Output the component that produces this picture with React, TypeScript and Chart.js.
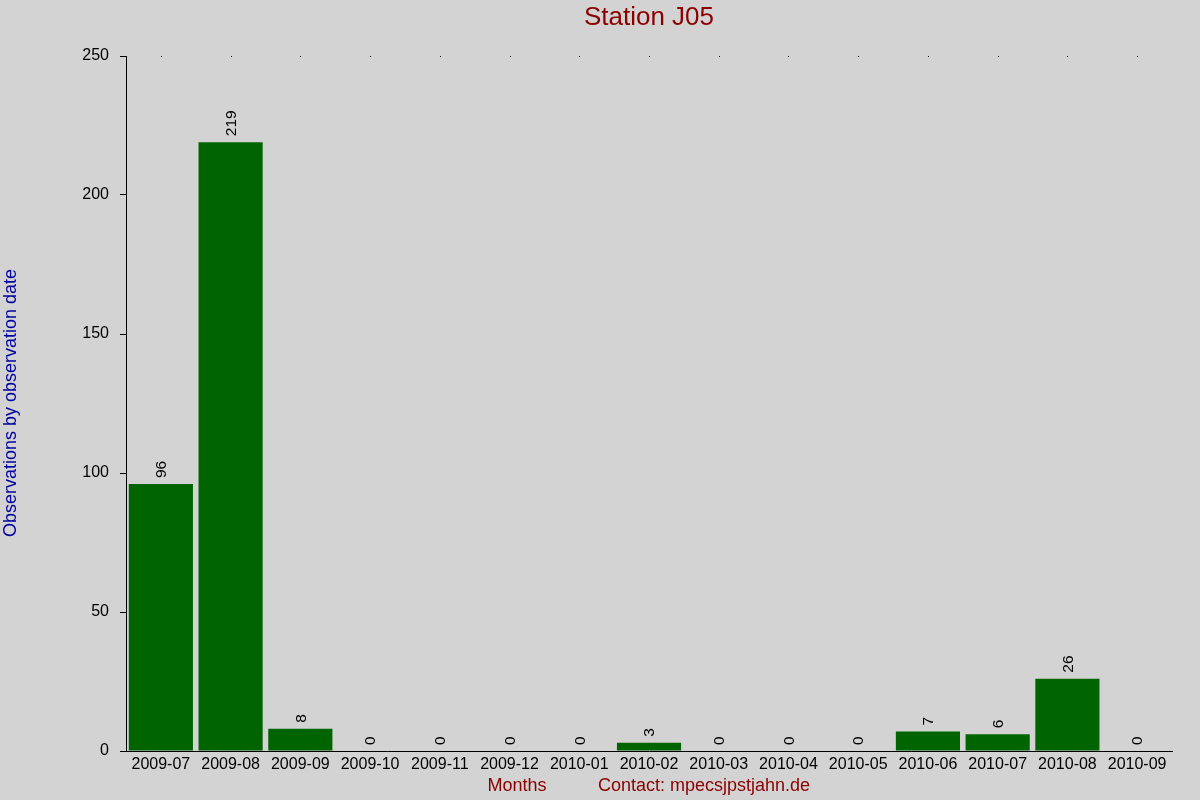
import { useEffect, useRef } from 'react'
import { Chart, registerables } from 'chart.js'
Chart.register(...registerables)

const MONTHS = ['2009-07','2009-08','2009-09','2009-10','2009-11','2009-12','2010-01','2010-02','2010-03','2010-04','2010-05','2010-06','2010-07','2010-08','2010-09']
const COUNTS = [96, 219, 8, 0, 0, 0, 0, 3, 0, 0, 0, 7, 6, 26, 0]
const Y_TICKS = [0, 50, 100, 150, 200, 250]

const TITLE     = 'Station J05'
const Y_TITLE   = 'Observations by observation date'
const X_TITLE   = 'Months'
const CONTACT   = 'Contact: mpecsjpstjahn.de'
const FONT      = '"Liberation Sans", Arial, sans-serif'

const decorations = {
  id: 'decorations',
  beforeDraw(chart: Chart) {
    const { ctx, width, height } = chart
    ctx.save()
    ctx.fillStyle = '#d3d3d3'
    ctx.fillRect(0, 0, width, height)
    ctx.restore()
  },
  afterDraw(chart: Chart) {
    const { ctx, chartArea } = chart
    const x = chart.scales.x
    ctx.save()

    // dots along the top edge
    ctx.fillStyle = '#000'
    MONTHS.forEach((_, i) => {
      ctx.fillRect(Math.round(x.getPixelForValue(i)), chartArea.top, 1, 1)
    })

    // value labels, rotated
    ctx.font = `15.5px ${FONT}`
    ctx.fillStyle = '#000'
    ctx.textAlign = 'left'
    ctx.textBaseline = 'middle'
    const meta = chart.getDatasetMeta(0)
    meta.data.forEach((bar: any, i) => {
      ctx.save()
      ctx.translate(bar.x, bar.y - 6)
      ctx.rotate(-Math.PI / 2)
      ctx.fillText(String(COUNTS[i]), 0, 1)
      ctx.restore()
    })

    // titles
    ctx.textAlign = 'center'
    ctx.fillStyle = '#8b0000'
    ctx.font = `26px ${FONT}`
    ctx.fillText(TITLE, 649, 18)

    ctx.font = `18px ${FONT}`
    ctx.fillText(X_TITLE, 517, 786)
    ctx.fillText(CONTACT, 704, 786)

    ctx.fillStyle = '#0000a0'
    ctx.translate(11, 403)
    ctx.rotate(-Math.PI / 2)
    ctx.fillText(Y_TITLE, 0, 0)
    ctx.restore()
  },
}

export default function App() {
  const canvasRef = useRef<HTMLCanvasElement>(null)
  const chartRef  = useRef<Chart | null>(null)

  useEffect(() => {
    if (!canvasRef.current) return
    chartRef.current?.destroy()
    chartRef.current = new Chart(canvasRef.current, {
      type: 'bar',
      data: {
        labels: MONTHS,
        datasets: [{
          data:               COUNTS,
          backgroundColor:    '#006400',
          borderWidth:        0,
          barPercentage:      0.92,
          categoryPercentage: 1,
        }],
      },
      options: {
        animation:           false,
        responsive:          true,
        maintainAspectRatio: false,
        layout: { padding: { top: 56, right: 28, left: 0, bottom: 0 } },
        plugins: { legend: { display: false }, tooltip: { enabled: false } },
        scales: {
          x: {
            afterFit: (s: any) => { s.height = 49 },
            grid:   { display: false, drawTicks: false },
            border: { color: '#000', width: 1 },
            ticks:  { color: '#000', font: { size: 16, family: FONT }, padding: 4, maxRotation: 0, autoSkip: false },
          },
          y: {
            min: 0, max: 250,
            afterFit: (s: any) => { s.width = 126 },
            afterBuildTicks: (s: any) => { s.ticks = Y_TICKS.map(v => ({ value: v })) },
            grid:   { drawOnChartArea: false, tickLength: 6, color: '#000' },
            border: { color: '#000', width: 1 },
            ticks:  { color: '#000', font: { size: 16, family: FONT }, padding: 11 },
          },
        },
      },
      plugins: [decorations],
    })
    return () => { chartRef.current?.destroy() }
  }, [])

  return (
    <div style={{ position: 'fixed', left: 0, top: 0, width: 1200, height: 800 }}>
      <canvas ref={canvasRef} style={{ width: '100%', height: '100%' }} />
    </div>
  )
}
